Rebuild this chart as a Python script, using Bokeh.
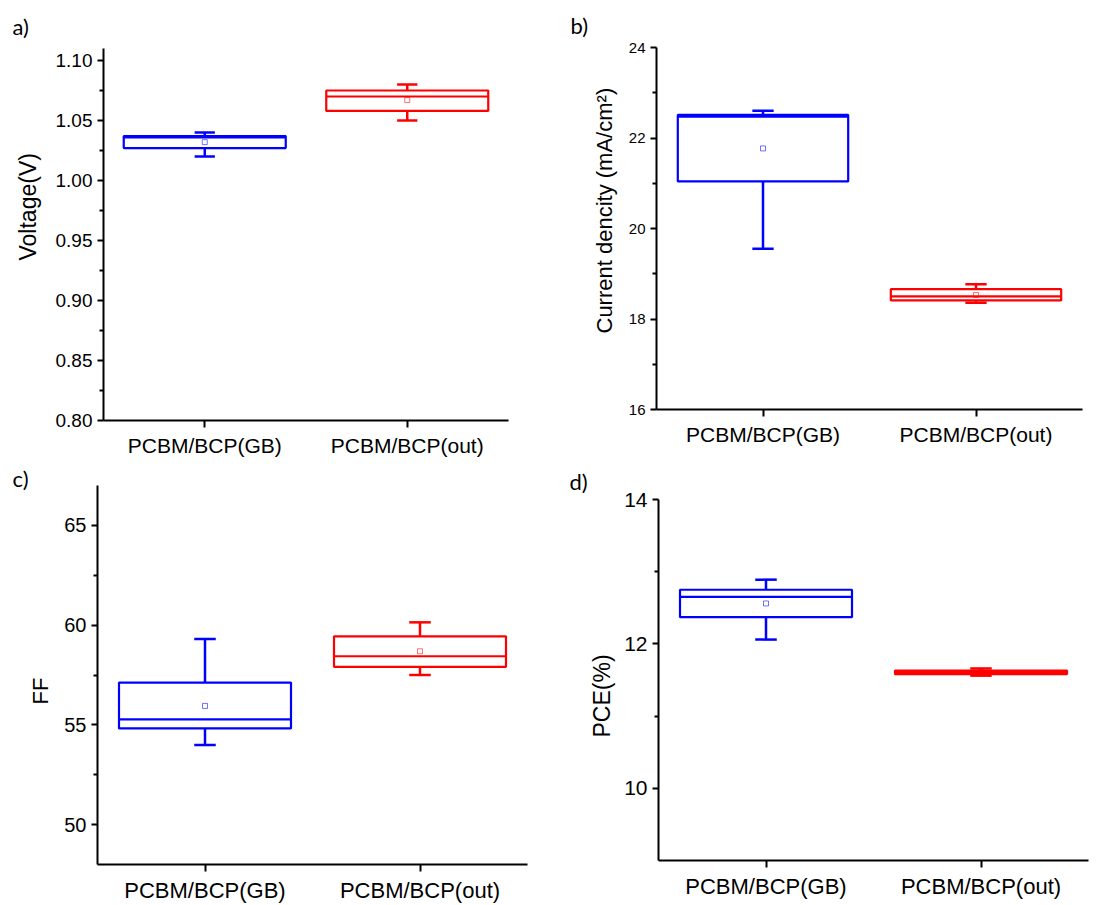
from bokeh.plotting import figure
from bokeh.models import ColumnDataSource, FactorRange, Range1d, FixedTicker, Title, PrintfTickFormatter
from bokeh.transform import dodge
from bokeh.layouts import column, row
from bokeh.embed import file_html
from bokeh.resources import INLINE

# ---------------- data ----------------
categories = ["PCBM/BCP(GB)", "PCBM/BCP(out)"]
colors = ["#0000FF", "#FF0000"]

voc_q1 = [1.027, 1.058]
voc_q3 = [1.037, 1.075]
voc_med = [1.036, 1.070]
voc_lo = [1.020, 1.050]
voc_hi = [1.040, 1.080]
voc_mean = [1.032, 1.067]

jsc_q1 = [21.04, 18.41]
jsc_q3 = [22.51, 18.66]
jsc_med = [22.47, 18.50]
jsc_lo = [19.55, 18.36]
jsc_hi = [22.60, 18.77]
jsc_mean = [21.77, 18.53]

ff_q1 = [54.82, 57.91]
ff_q3 = [57.12, 59.44]
ff_med = [55.28, 58.44]
ff_lo = [53.99, 57.50]
ff_hi = [59.31, 60.14]
ff_mean = [55.95, 58.69]

pce_q1 = [12.37, 11.58]
pce_q3 = [12.75, 11.63]
pce_med = [12.65, 11.61]
pce_lo = [12.06, 11.56]
pce_hi = [12.89, 11.66]
pce_mean = [12.56, 11.61]

voc_ticks = [0.80, 0.85, 0.90, 0.95, 1.00, 1.05, 1.10]
voc_minor = [0.825, 0.875, 0.925, 0.975, 1.025, 1.075]
jsc_ticks = [16, 18, 20, 22, 24]
jsc_minor = [17, 19, 21, 23]
ff_ticks = [50, 55, 60, 65]
ff_minor = [52.5, 57.5, 62.5]
pce_ticks = [10, 12, 14]
pce_minor = [11, 13]

FONT = "Liberation Sans"


def panel(letter, ylabel, q1, q3, med, lo, hi, mean, yr, ticks, minor, fmt,
          size, borders, tick_fs, cat_fs, lab_fs, lab_off, lab_standoff, letter_off, letter_standoff):
    w, h = size
    bl, br, bt, bb = borders
    p = figure(x_range=FactorRange(*categories), y_range=Range1d(*yr),
               width=w, height=h, output_backend="svg", toolbar_location=None,
               min_border_left=bl, min_border_right=br, min_border_top=bt,
               min_border_bottom=bb)
    src = ColumnDataSource(dict(cat=categories, q1=q1, q3=q3, med=med, lo=lo,
                                hi=hi, mean=mean, color=colors))
    # box
    p.vbar(x="cat", width=0.8, top="q3", bottom="q1", source=src,
           fill_color=None, line_color="color", line_width=2.2)
    # median
    p.segment(x0=dodge("cat", -0.4, range=p.x_range), x1=dodge("cat", 0.4, range=p.x_range),
              y0="med", y1="med", source=src, line_color="color", line_width=2.2)
    # whisker stems
    p.segment(x0="cat", x1="cat", y0="q3", y1="hi", source=src, line_color="color", line_width=2.5)
    p.segment(x0="cat", x1="cat", y0="q1", y1="lo", source=src, line_color="color", line_width=2.5)
    # caps
    p.segment(x0=dodge("cat", -0.05, range=p.x_range), x1=dodge("cat", 0.05, range=p.x_range),
              y0="hi", y1="hi", source=src, line_color="color", line_width=2.5)
    p.segment(x0=dodge("cat", -0.05, range=p.x_range), x1=dodge("cat", 0.05, range=p.x_range),
              y0="lo", y1="lo", source=src, line_color="color", line_width=2.5)
    # mean
    p.scatter(x="cat", y="mean", source=src, marker="square", size=5,
              fill_color=None, line_color="color", line_alpha=0.55, line_width=1)

    p.xgrid.visible = False
    p.ygrid.visible = False
    p.outline_line_color = None
    p.background_fill_color = "white"
    p.border_fill_color = "white"

    for ax in (p.xaxis[0], p.yaxis[0]):
        ax.axis_line_width = 2
        ax.axis_line_color = "black"
        ax.major_tick_line_width = 2
        ax.major_tick_line_color = "black"
        ax.major_tick_in = 0
        ax.major_tick_out = 6
        ax.minor_tick_line_width = 2
        ax.minor_tick_line_color = "black"
        ax.minor_tick_in = 0
        ax.minor_tick_out = 4
        ax.major_label_text_font = FONT
        ax.major_label_text_color = "black"

    p.yaxis.ticker = FixedTicker(ticks=ticks, minor_ticks=minor)
    p.yaxis.formatter = PrintfTickFormatter(format=fmt)
    p.yaxis.major_label_text_font_size = tick_fs
    p.yaxis.major_label_standoff = 5

    p.xaxis.major_label_text_font_size = cat_fs
    p.xaxis.major_label_standoff = 6
    p.xaxis.major_tick_out = 7

    # y-axis title as a side title (allows the off-centre placement of the original)
    p.add_layout(Title(text=ylabel, align="left", offset=lab_off, standoff=lab_standoff,
                       text_font=FONT, text_font_size=lab_fs, text_font_style="normal",
                       text_color="black"), "left")

    p.add_layout(Title(text=letter, align="left", offset=letter_off, standoff=letter_standoff,
                       text_font="Lato", text_font_size="22px", text_font_style="normal",
                       text_color="black"), "above")
    return p


pa = panel("a)", "Voltage(V)", voc_q1, voc_q3, voc_med, voc_lo, voc_hi, voc_mean,
           (0.80, 1.11), voc_ticks, voc_minor, "%.2f",
           (560, 460), (103, 52, 48, 40), "19px", "21px", "23px", 160, 24, -91, 18)
pb = panel("b)", "Current dencity (mA/cm²)", jsc_q1, jsc_q3, jsc_med, jsc_lo, jsc_hi, jsc_mean,
           (16, 24), jsc_ticks, jsc_minor, "%d",
           (555, 460), (96, 33, 47, 51), "15px", "21px", "22px", 76, 17, -86, 17)
pc = panel("c)", "FF", ff_q1, ff_q3, ff_med, ff_lo, ff_hi, ff_mean,
           (48, 67), ff_ticks, ff_minor, "%d",
           (560, 445), (97, 33, 25, 38), "20px", "22px", "22px", 160, 17, -85, -13)
pd_ = panel("d)", "PCE(%)", pce_q1, pce_q3, pce_med, pce_lo, pce_hi, pce_mean,
            (9, 14), pce_ticks, pce_minor, "%d",
            (555, 445), (98, 27, 39, 45), "21px", "22px", "23px", 123, 13, -89, 9)

layout = column(row(column(pa), column(pb)), row(column(pc), column(pd_)))

open("out.html", "w").write(file_html(layout, INLINE))
